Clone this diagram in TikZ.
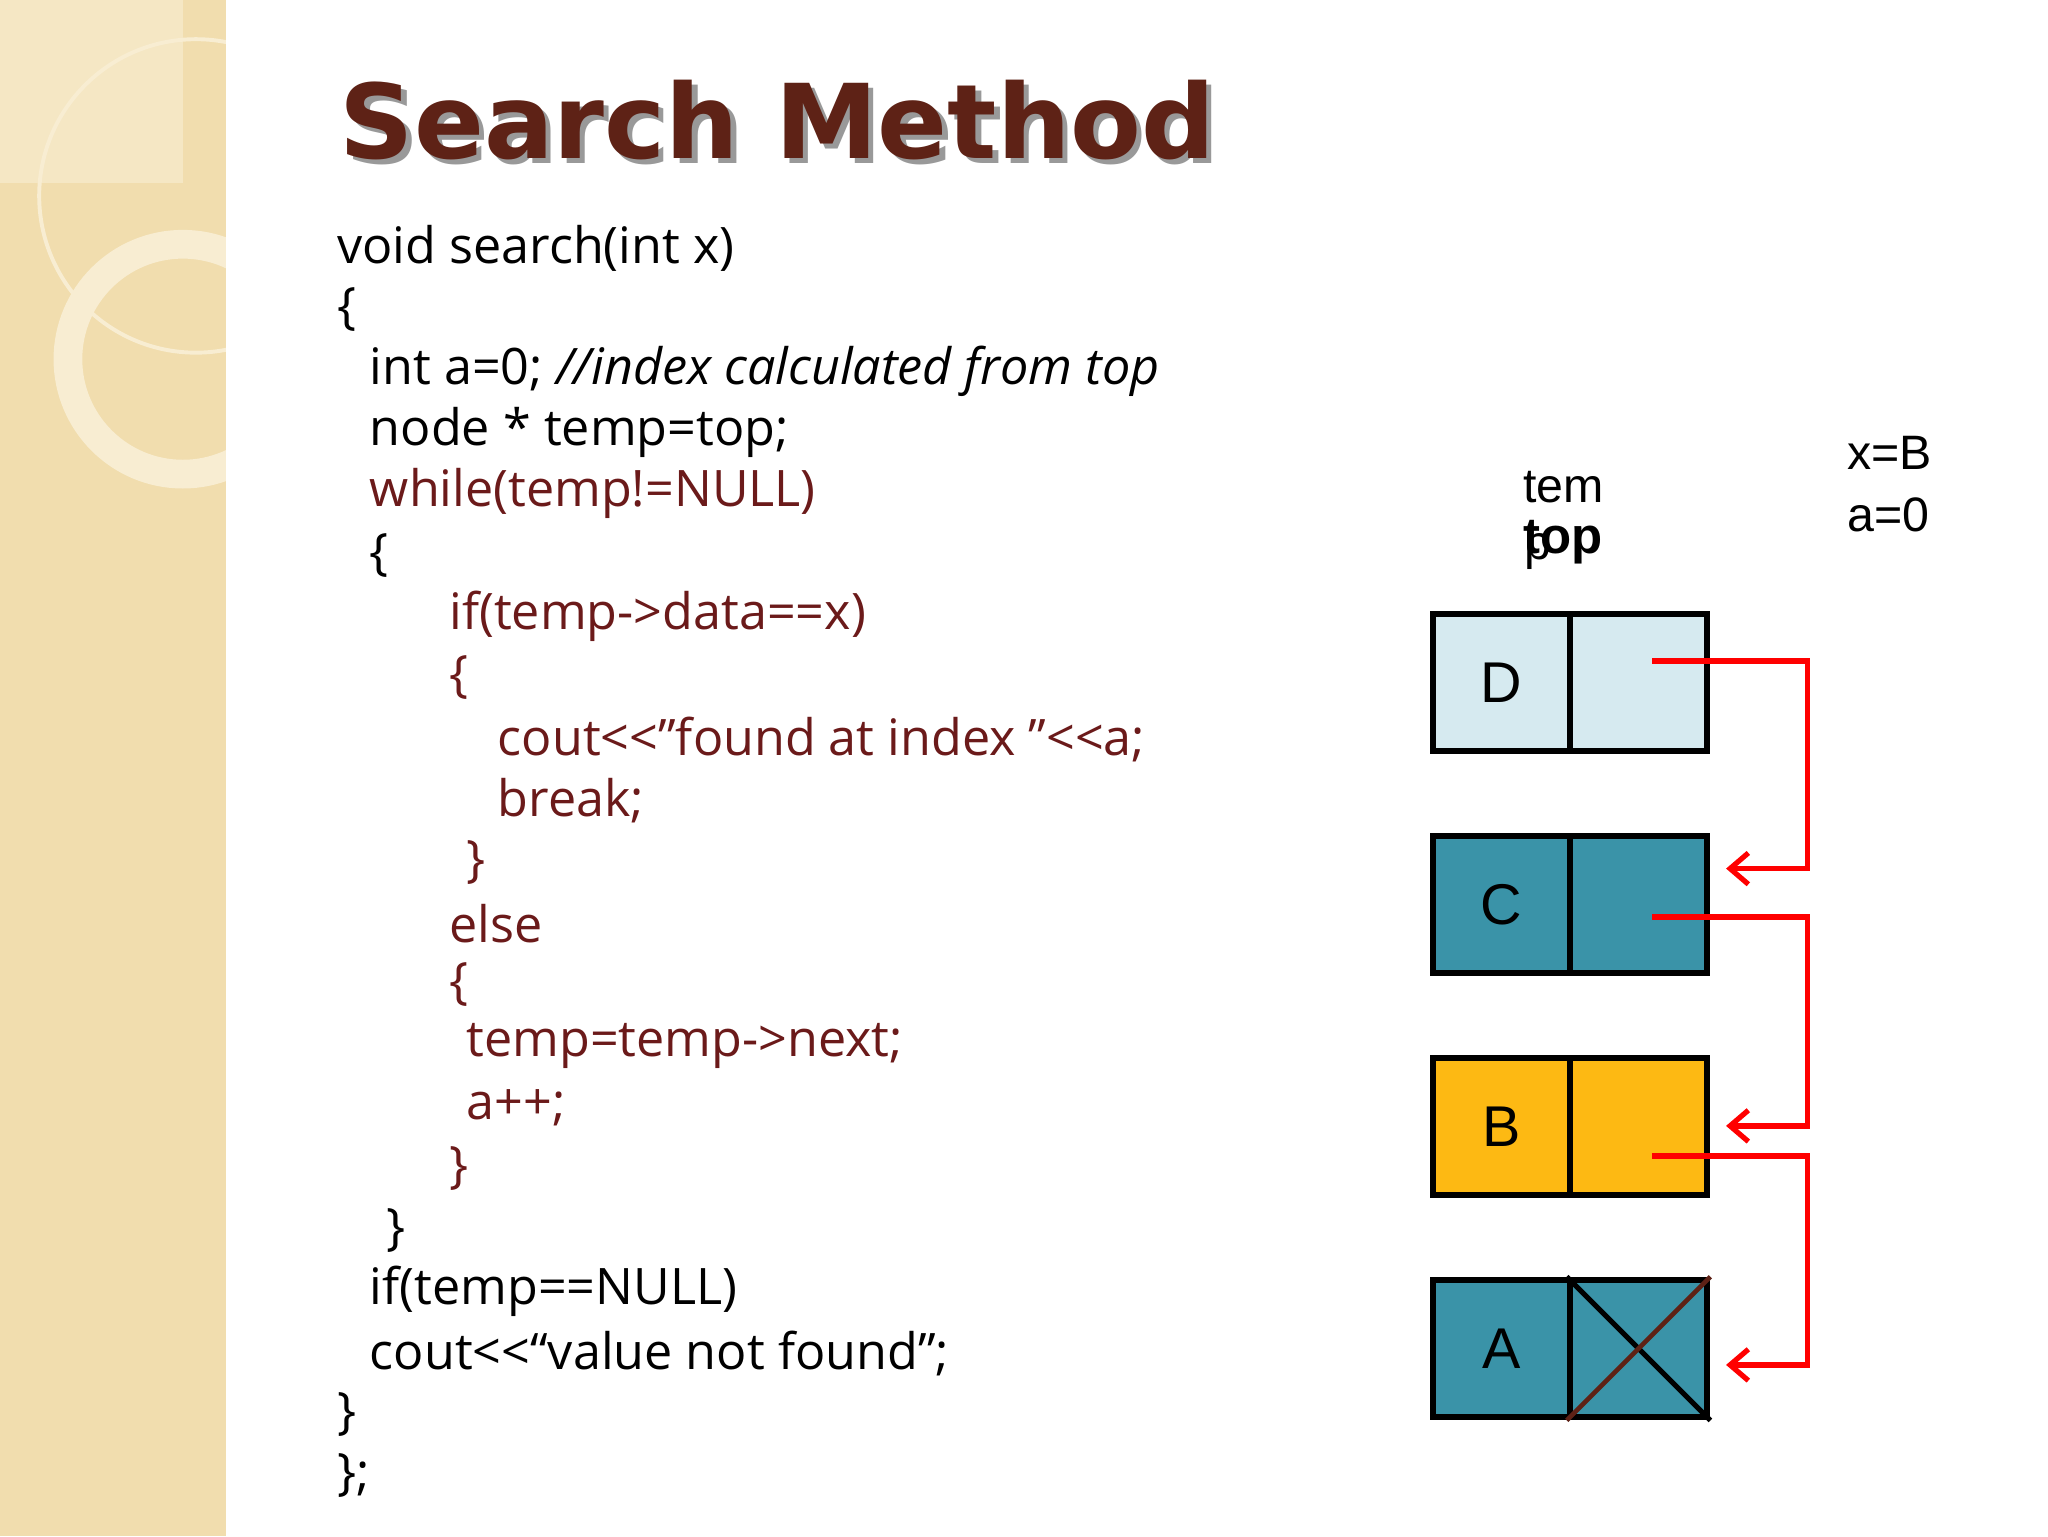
\documentclass[tikz,border=0pt]{standalone}
\usepackage{fontspec}
\usetikzlibrary{arrows.meta}
\setmainfont{Open Sans}
\newfontfamily\titlefont{DejaVu Sans}
\newfontfamily\armf{Liberation Sans}
\definecolor{codered}{HTML}{6B1A1A}
\definecolor{titlec}{HTML}{5E2216}
\definecolor{lightb}{HTML}{D6EAF0}
\definecolor{tealc}{HTML}{3A93A8}
\definecolor{yel}{HTML}{FDB913}
\definecolor{beige}{HTML}{F1DDAE}
\definecolor{ring}{HTML}{F8EDD2}
\begin{document}
\begin{tikzpicture}[x=1pt,y=-1pt,
  code/.style={anchor=west,inner sep=0pt,font=\fontsize{38.5}{44}\selectfont},
  half/.style={draw=black,line width=5pt,minimum width=105pt,minimum height=105pt,inner sep=0pt,font=\armf\fontsize{44}{50}\selectfont},
  link/.style={draw=red,line width=4pt,-{Straight Barb[length=14pt,width=24pt,line width=4pt]}},
  lab/.style={anchor=west,inner sep=0pt,font=\armf\fontsize{37}{42}\selectfont}]
\useasboundingbox (0,0) rectangle (1568,1176);
\fill[white] (0,0) rectangle (1568,1176);
\fill[beige] (0,0) rectangle (173,1176);
\fill[ring!60!beige] (0,0) rectangle (140,140);
\begin{scope}
\clip (0,0) rectangle (173,1176);
\draw[ring,line width=3pt] (150,150) circle (120);
\draw[ring,line width=22pt] (140,275) circle (88);
\end{scope}
\node[anchor=west,inner sep=0pt,font=\titlefont\bfseries\fontsize{79}{90}\selectfont,text=black!40] at (264,96) {Search Method};
\node (title)[anchor=west,inner sep=0pt,font=\titlefont\bfseries\fontsize{79}{90}\selectfont,text=titlec] at (260,92) {Search Method};
\node (l1)[code] at (258,190) {void search(int x)};
\node (l2)[code] at (258,237) {\{};
\node (l3)[code] at (283,284) {int a=0; \textit{//index calculated from top}};
\node (l4)[code] at (283,331) {node * temp=top;};
\node (l5)[code,text=codered] at (283,378) {while(temp!=NULL)};
\node (l6)[code] at (283,425) {\{};
\node (l7)[code,text=codered] at (344,472) {if(temp->data==x)};
\node (l8)[code,text=codered] at (344,519) {\{};
\node (l9)[code,text=codered] at (381,566) {cout<{}<"found at index "<{}<a;};
\node (l10)[code,text=codered] at (381,613) {break;};
\node (l11)[code,text=codered] at (357,660) {\}};
\node (l12)[code,text=codered] at (344,707) {else};
\node (l13)[code,text=codered] at (344,754) {\{};
\node (l14)[code,text=codered] at (357,801) {temp=temp->next;};
\node (l15)[code,text=codered] at (357,848) {a++;};
\node (l16)[code,text=codered] at (344,895) {\}};
\node (l17)[code] at (296,942) {\}};
\node (l18)[code] at (283,989) {if(temp==NULL)};
\node (l19)[code] at (283,1036) {cout<{}<“value not found";};
\node (l20)[code] at (258,1083) {\}};
\node (l21)[code] at (258,1130) {\};};
% nodes
\node (dL)[half,fill=lightb] at (1149.5,522.5) {D};
\node (dR)[half,fill=lightb] at (1254.5,522.5) {};
\node (cL)[half,fill=tealc] at (1149.5,692.5) {C};
\node (cR)[half,fill=tealc] at (1254.5,692.5) {};
\node (bL)[half,fill=yel] at (1149.5,862.5) {B};
\node (bR)[half,fill=yel] at (1254.5,862.5) {};
\node (aL)[half,fill=tealc] at (1149.5,1032.5) {A};
\node (aR)[half,fill=tealc] at (1254.5,1032.5) {};
\draw[line width=4pt] (aR.north west) -- (aR.south east);
\draw[titlec,line width=3.5pt] (aR.south west) -- (aR.north east);
\coordinate (dS) at (1265,506);
\coordinate (cS) at (1265,702);
\coordinate (bS) at (1265,885);
\draw[link] (dS) -- (1384,506) |- ([xshift=12pt]cR.east |- 0,665);
\draw[link] (cS) -- (1384,702) |- ([xshift=12pt]bR.east |- 0,862);
\draw[link] (bS) -- (1384,885) |- ([xshift=12pt]aR.east |- 0,1045);
\node (tem)[lab] at (1166,373) {tem};
\node (p)[lab] at (1167,422) {p};
\node (top)[lab,font=\armf\bfseries\fontsize{39}{44}\selectfont] at (1166,415) {top};
\node (xb)[lab] at (1414,347) {x=B};
\node (a0)[lab] at (1414,394) {a=0};
\end{tikzpicture}
\end{document}
